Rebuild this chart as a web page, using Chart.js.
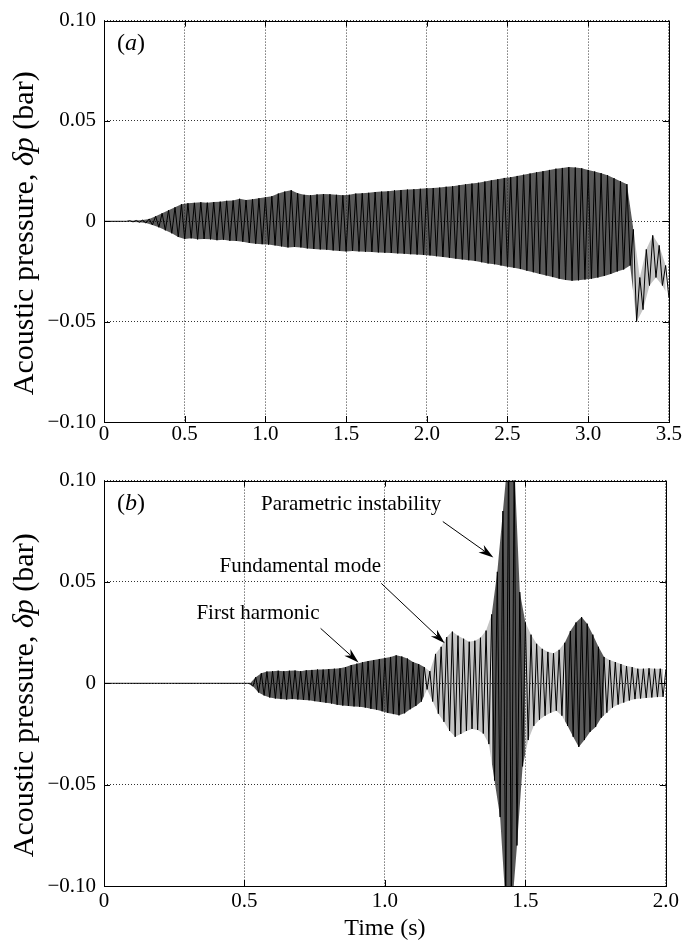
<!DOCTYPE html>
<html>
<head>
<meta charset="utf-8">
<script src="https://cdn.jsdelivr.net/npm/chart.js@4.4.1/dist/chart.umd.min.js"></script>
<style>
  html, body { margin: 0; padding: 0; background: #fff; }
  #wrap { position: relative; width: 682px; height: 946px; }
  canvas { position: absolute; left: 0; }
  #plotA { top: 0; }
  #plotB { top: 460px; }
</style>
</head>
<body>
<div id="wrap">
  <canvas id="plotA" width="682" height="460"></canvas>
  <canvas id="plotB" width="682" height="486"></canvas>
</div>
<script>
const serif = '"Liberation Serif", "Times New Roman", serif';

// (a) acoustic pressure peaks (bar), one every 0.02 s from 0 to 3.5 s
const stepA = 0.02;
const pressureA = [
  0, 0, 0, 0, 0, 0, 0, 0, 0.0003, -0.0003,
  0.0004, -0.0005, 0.0006, -0.0009, 0.0012, -0.0018, 0.0025, -0.003, 0.004, -0.0045,
  0.0055, -0.006, 0.007, -0.0078, 0.0085, -0.0088, 0.009, -0.0085, 0.0092, -0.009,
  0.0095, -0.0088, 0.0093, -0.009, 0.0096, -0.0094, 0.0098, -0.0092, 0.0102, -0.0097,
  0.0104, -0.0098, 0.0112, -0.0102, 0.0106, -0.0108, 0.011, -0.0112, 0.0115, -0.0114,
  0.012, -0.0116, 0.0125, -0.012, 0.0138, -0.0125, 0.0148, -0.013, 0.0155, -0.0128,
  0.014, -0.013, 0.0132, -0.0135, 0.013, -0.0138, 0.0134, -0.014, 0.0136, -0.0142,
  0.0135, -0.0145, 0.0132, -0.0148, 0.013, -0.015, 0.0132, -0.0148, 0.0138, -0.015,
  0.014, -0.0152, 0.0142, -0.0153, 0.0146, -0.0155, 0.0148, -0.0157, 0.015, -0.0158,
  0.0154, -0.016, 0.0156, -0.0162, 0.0158, -0.0164, 0.016, -0.0166, 0.0162, -0.0168,
  0.0165, -0.017, 0.0166, -0.0174, 0.0168, -0.0178, 0.0172, -0.0182, 0.0175, -0.0186,
  0.018, -0.019, 0.0184, -0.0194, 0.0188, -0.0198, 0.0192, -0.0204, 0.0198, -0.021,
  0.0204, -0.0214, 0.021, -0.022, 0.0216, -0.0226, 0.022, -0.0232, 0.0226, -0.0238,
  0.0232, -0.0246, 0.0238, -0.0254, 0.0244, -0.0262, 0.025, -0.027, 0.0256, -0.0278,
  0.0262, -0.0286, 0.0266, -0.0292, 0.027, -0.0296, 0.0268, -0.0294, 0.0264, -0.029,
  0.0256, -0.0286, 0.0248, -0.028, 0.024, -0.0272, 0.023, -0.0262, 0.0215, -0.025,
  0.02, -0.024, 0.0185, -0.022, -0.004, -0.05, -0.028, -0.044, -0.014, -0.032,
  -0.007, -0.028, -0.012, -0.032, -0.022, -0.038
];

// (b) acoustic pressure peaks (bar), one every 0.01 s from 0 to 2.0 s
const stepB = 0.01;
const pressureB = [
  0, 0, 0, 0, 0, 0, 0, 0, 0, 0,
  0, 0, 0, 0, 0, 0, 0, 0, 0, 0,
  0, 0, 0, 0, 0, 0, 0, 0, 0, 0,
  0, 0, 0, 0, 0, 0, 0, 0, 0, 0,
  0, 0, 0, 0, 0, 0, 0, 0, 0, 0,
  0, 0, 0, -0.0015, 0.003, -0.0045, 0.005, -0.006, 0.0058, -0.007,
  0.006, -0.0075, 0.0062, -0.0078, 0.006, -0.008, 0.0062, -0.0078, 0.0063, -0.008,
  0.006, -0.0082, 0.0064, -0.0084, 0.0066, -0.0088, 0.0068, -0.0092, 0.0068, -0.0096,
  0.007, -0.01, 0.0072, -0.0106, 0.0074, -0.011, 0.008, -0.0112, 0.009, -0.0114,
  0.0097, -0.0116, 0.0104, -0.012, 0.011, -0.0126, 0.0115, -0.013, 0.012, -0.0138,
  0.0125, -0.0146, 0.013, -0.0152, 0.0138, -0.0158, 0.0132, -0.0148, 0.0122, -0.0128,
  0.0105, -0.0112, 0.0095, -0.009, 0.008, -0.003, 0.006, -0.009, 0.0145, -0.015,
  0.018, -0.019, 0.0228, -0.0235, 0.0255, -0.0264, 0.0235, -0.025, 0.022, -0.0235,
  0.0205, -0.0225, 0.021, -0.023, 0.0225, -0.0248, 0.026, -0.03, 0.034, -0.048,
  0.055, -0.066, 0.085, -0.11, 0.115, -0.115, 0.11, -0.08, 0.045, -0.041,
  0.03, -0.028, 0.024, -0.021, 0.0195, -0.018, 0.017, -0.016, 0.0155, -0.0145,
  0.0148, -0.0135, 0.0165, -0.016, 0.02, -0.021, 0.0258, -0.0264, 0.03, -0.0314,
  0.0327, -0.028, 0.0294, -0.024, 0.024, -0.0215, 0.018, -0.017, 0.013, -0.0145,
  0.0115, -0.012, 0.0105, -0.0105, 0.0095, -0.0095, 0.0085, -0.0085, 0.008, -0.0078,
  0.0072, -0.0075, 0.0072, -0.0072, 0.0074, -0.007, 0.0072, -0.0068, 0.0072, -0.0067,
  0.0068
];

const xTickValuesA = [0, 0.5, 1.0, 1.5, 2.0, 2.5, 3.0, 3.5];
const xTickLabelsA = ['0', '0.5', '1.0', '1.5', '2.0', '2.5', '3.0', '3.5'];
const xTickValuesB = [0, 0.5, 1.0, 1.5, 2.0];
const xTickLabelsB = ['0', '0.5', '1.0', '1.5', '2.0'];
const yTickValues = [-0.1, -0.05, 0, 0.05, 0.1];
const yTickLabels = ['\u22120.10', '\u22120.05', '0', '0.05', '0.10'];

// annotations of panel (b): text anchor and arrow, in data units (s, bar)
const notesB = [
  { text: 'Parametric instability', x: 0.559, y: 0.0856, from: [1.206, 0.0798], to: [1.386, 0.0621] },
  { text: 'Fundamental mode', x: 0.411, y: 0.0548, from: [0.987, 0.0493], to: [1.213, 0.0197] },
  { text: 'First harmonic', x: 0.329, y: 0.0319, from: [0.771, 0.0271], to: [0.906, 0.0103] }
];

const bandDark = 'rgba(25,25,25,0.72)';
const bandLight = 'rgba(60,60,60,0.3)';

function drawRich(ctx, parts, x, y, align, rotate) {
  ctx.save();
  ctx.translate(x, y);
  if (rotate) ctx.rotate(-Math.PI / 2);
  ctx.textBaseline = 'middle';
  ctx.textAlign = 'left';
  ctx.fillStyle = '#000';
  let total = 0;
  parts.forEach(p => { ctx.font = p.font; total += ctx.measureText(p.text).width; });
  let cx = align === 'center' ? -total / 2 : 0;
  parts.forEach(p => {
    ctx.font = p.font;
    ctx.fillText(p.text, cx, 0);
    cx += ctx.measureText(p.text).width;
  });
  ctx.restore();
}

// box round the plot + MATLAB-like inward ticks, y title and panel tag
const framePlugin = {
  id: 'frame',
  afterDraw(chart) {
    const { ctx, chartArea: a, scales } = chart;
    ctx.save();
    ctx.strokeStyle = '#000';
    ctx.lineWidth = 1;
    ctx.strokeRect(Math.round(a.left) + 0.5, Math.round(a.top) + 0.5,
      Math.round(a.right - a.left), Math.round(a.bottom - a.top));
    const len = 6;
    ctx.beginPath();
    scales.x.ticks.forEach(t => {
      const px = Math.round(scales.x.getPixelForValue(t.value)) + 0.5;
      ctx.moveTo(px, a.bottom); ctx.lineTo(px, a.bottom - len);
      ctx.moveTo(px, a.top); ctx.lineTo(px, a.top + len);
    });
    scales.y.ticks.forEach(t => {
      const py = Math.round(scales.y.getPixelForValue(t.value)) + 0.5;
      ctx.moveTo(a.left, py); ctx.lineTo(a.left + len, py);
      ctx.moveTo(a.right, py); ctx.lineTo(a.right - len, py);
    });
    ctx.stroke();
    ctx.restore();

    const o = chart.options.plugins.frame;
    const mid = (a.top + a.bottom) / 2 + 12;
    drawRich(ctx, [
      { text: 'Acoustic pressure, ', font: '30px ' + serif },
      { text: '\u03b4p', font: 'italic 30px ' + serif },
      { text: ' (bar)', font: '30px ' + serif }
    ], 25, mid, 'center', true);
    drawRich(ctx, [
      { text: '(', font: '24px ' + serif },
      { text: o.tag, font: 'italic 24px ' + serif },
      { text: ')', font: '24px ' + serif }
    ], a.left + 13, a.top + 23, 'left', false);
  }
};

const notesPlugin = {
  id: 'notes',
  afterDraw(chart) {
    const notes = chart.options.plugins.notes.items;
    if (!notes) return;
    const { ctx, scales: { x, y } } = chart;
    ctx.save();
    ctx.fillStyle = '#000';
    ctx.strokeStyle = '#000';
    ctx.lineWidth = 1;
    ctx.font = '21px ' + serif;
    ctx.textAlign = 'left';
    ctx.textBaseline = 'alphabetic';
    notes.forEach(n => {
      ctx.fillText(n.text, x.getPixelForValue(n.x), y.getPixelForValue(n.y));
      const x0 = x.getPixelForValue(n.from[0]), y0 = y.getPixelForValue(n.from[1]);
      const x1 = x.getPixelForValue(n.to[0]), y1 = y.getPixelForValue(n.to[1]);
      const ang = Math.atan2(y1 - y0, x1 - x0);
      const hl = 15, hw = 4.5;
      ctx.beginPath();
      ctx.moveTo(x0, y0);
      ctx.lineTo(x1 - Math.cos(ang) * hl * 0.7, y1 - Math.sin(ang) * hl * 0.7);
      ctx.stroke();
      ctx.save();
      ctx.translate(x1, y1);
      ctx.rotate(ang);
      ctx.beginPath();
      ctx.moveTo(0, 0);
      ctx.lineTo(-hl, -hw);
      ctx.lineTo(-hl * 0.7, 0);
      ctx.lineTo(-hl, hw);
      ctx.closePath();
      ctx.fill();
      ctx.restore();
    });
    ctx.restore();
  }
};

function makePanel(canvas, opt) {
  const points = opt.values.map((v, i) => ({ x: i * opt.step, y: v }));
  // the peaks split in two: even samples and odd samples bound the grey band
  const crest = points.filter((p, i) => i % 2 === 0);
  const trough = points.filter((p, i) => i % 2 === 1);
  const light = opt.lightRanges || [];
  const bandColor = c => {
    const t = c.p0.parsed.x;
    return light.some(r => t >= r[0] && t < r[1]) ? bandLight : bandDark;
  };
  return new Chart(canvas, {
    type: 'line',
    data: {
      datasets: [{
        data: points,
        borderColor: '#000',
        borderWidth: 1,
        pointRadius: 0,
        tension: 0,
        clip: 0
      }, {
        data: crest,
        borderWidth: 0,
        borderColor: 'rgba(0,0,0,0)',
        backgroundColor: bandDark,
        segment: { backgroundColor: bandColor },
        fill: '+1',
        pointRadius: 0,
        tension: 0,
        clip: 0
      }, {
        data: trough,
        borderWidth: 0,
        borderColor: 'rgba(0,0,0,0)',
        pointRadius: 0,
        tension: 0,
        clip: 0
      }]
    },
    options: {
      responsive: false,
      animation: false,
      events: [],
      parsing: false,
      layout: { padding: { left: 0, top: opt.padTop, right: 13, bottom: 0 } },
      plugins: {
        legend: { display: false },
        tooltip: { enabled: false },
        frame: { tag: opt.tag },
        notes: { items: opt.notes }
      },
      scales: {
        x: {
          type: 'linear',
          min: 0,
          max: opt.xMax,
          afterBuildTicks: s => { s.ticks = opt.xTicks.map(v => ({ value: v })); },
          afterFit: s => { s.height = opt.xAxisHeight; },
          ticks: {
            padding: opt.xTickPad,
            color: '#000',
            maxRotation: 0,
            font: { family: serif, size: 21 },
            callback: (v, i) => opt.xLabels[i]
          },
          grid: { color: '#333', lineWidth: 1, drawTicks: false },
          border: { display: false, dash: [1, 2] },
          title: {
            display: !!opt.xTitle,
            text: opt.xTitle || '',
            color: '#000',
            font: { family: serif, size: 24 },
            padding: { top: 0, bottom: 3 }
          }
        },
        y: {
          type: 'linear',
          min: -0.1,
          max: 0.1,
          afterBuildTicks: s => { s.ticks = yTickValues.map(v => ({ value: v })); },
          afterFit: s => { s.width = 104; },
          ticks: {
            padding: 8,
            color: '#000',
            font: { family: serif, size: 21 },
            callback: (v, i) => yTickLabels[i]
          },
          grid: { color: '#333', lineWidth: 1, drawTicks: false },
          border: { display: false, dash: [1, 2] }
        }
      }
    },
    plugins: [framePlugin, notesPlugin]
  });
}

makePanel(document.getElementById('plotA'), {
  values: pressureA, step: stepA, xMax: 3.5,
  xTicks: xTickValuesA, xLabels: xTickLabelsA,
  padTop: 17, xAxisHeight: 38, xTickPad: 0, tag: 'a',
  lightRanges: [[3.27, 3.6]]
});

makePanel(document.getElementById('plotB'), {
  values: pressureB, step: stepB, xMax: 2.0,
  xTicks: xTickValuesB, xLabels: xTickLabelsB,
  padTop: 20, xAxisHeight: 60, xTickPad: 3, tag: 'b',
  xTitle: 'Time (s)', notes: notesB,
  lightRanges: [[1.13, 1.38], [1.49, 1.63], [1.78, 2.1]]
});
</script>
</body>
</html>
